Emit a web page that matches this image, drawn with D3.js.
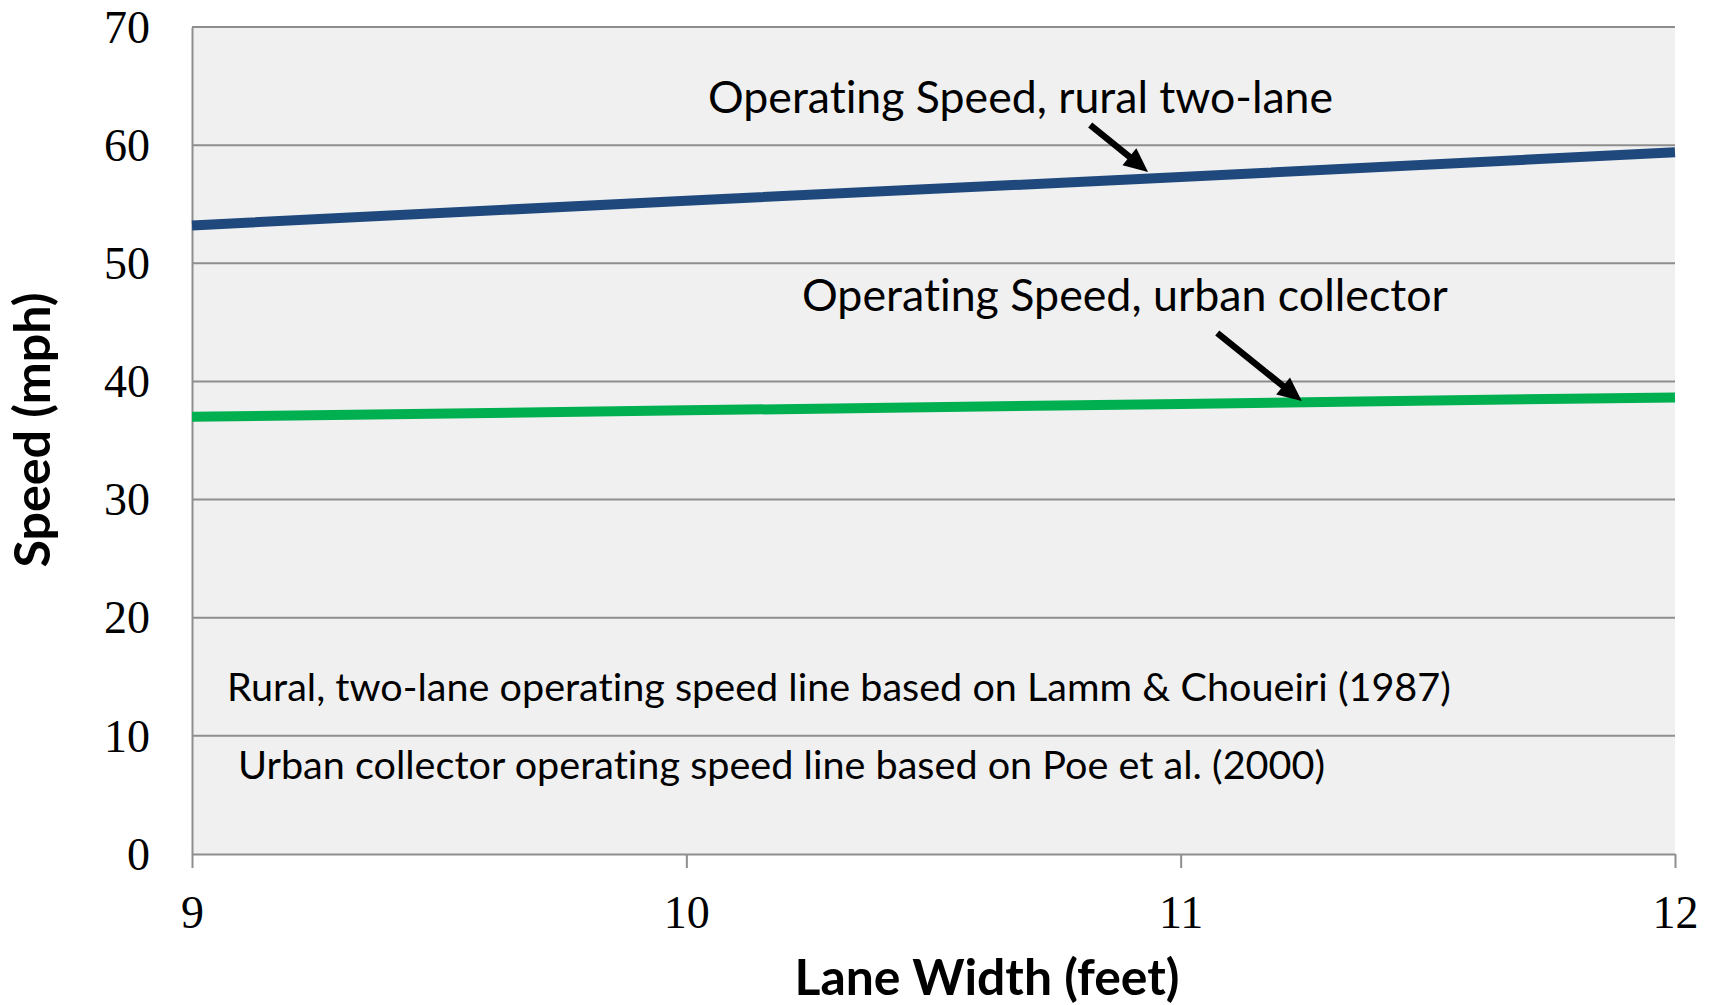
<!DOCTYPE html>
<html><head><meta charset="utf-8">
<script src="https://cdn.jsdelivr.net/npm/d3@7"></script>
<style>body{margin:0;background:#fff} text{font-variant-ligatures:none;font-feature-settings:"liga" 0,"clig" 0}</style>
</head><body><svg id="c" width="1713" height="1005"></svg>
<script>
// ---- data ----
const laneWidth = [9, 10, 11, 12];
const ruralSpeed = [53.2, 55.3, 57.3, 59.4];
const urbanSpeed = [37.0, 37.55, 38.1, 38.65];
const xTickLabels = ["9", "10", "11", "12"];
const yTickValues = [0, 10, 20, 30, 40, 50, 60, 70];
const seriesNames = ["Operating Speed, rural two-lane", "Operating Speed, urban collector"];
const seriesColors = ["#1F497D", "#00B050"];
const notes = ["Rural, two-lane operating speed line based on Lamm & Choueiri (1987)",
               "Urban collector operating speed line based on Poe et al. (2000)"];
const xTitle = "Lane Width (feet)";
const yTitle = "Speed (mph)";

// ---- layout ----
const W = 1713, H = 1005;
const L = 192, R = 1675, T = 27, B = 854;
const sans = "Lato, 'Open Sans', sans-serif";
const serif = "'Times New Roman', 'Liberation Serif', serif";

const svg = d3.select("#c");
const x = d3.scaleLinear().domain([9, 12]).range([L, R]);
const y = d3.scaleLinear().domain([0, 70]).range([B, T]);

svg.append("rect").attr("x", L).attr("y", T).attr("width", R - L).attr("height", B - T).attr("fill", "#F0F0F0");

// gridlines
svg.append("g").selectAll("line").data(yTickValues.filter(d => d > 0)).join("line")
  .attr("x1", L).attr("x2", R).attr("y1", d => y(d)).attr("y2", d => y(d))
  .attr("stroke", "#8E8E8E").attr("stroke-width", 2);

// y axis
const gy = svg.append("g").attr("transform", `translate(${L},0)`)
  .call(d3.axisLeft(y).tickValues(yTickValues).tickSize(0).tickSizeOuter(0).tickPadding(42).tickFormat(d3.format("d")));
gy.select(".domain").attr("stroke", "#8E8E8E").attr("stroke-width", 2);
gy.selectAll("text").attr("font-family", serif).attr("font-size", 46).attr("fill", "#000").attr("dy", "0.33em");

// x axis
const gx = svg.append("g").attr("transform", `translate(0,${B})`)
  .call(d3.axisBottom(x).tickValues(laneWidth).tickSize(14).tickSizeOuter(0).tickPadding(27)
    .tickFormat((d, i) => xTickLabels[i]));
gx.select(".domain").attr("stroke", "#8E8E8E").attr("stroke-width", 2);
gx.selectAll(".tick line").attr("stroke", "#8E8E8E").attr("stroke-width", 2);
gx.selectAll("text").attr("font-family", serif).attr("font-size", 46).attr("fill", "#000");

// series
const line = d3.line().x((d, i) => x(laneWidth[i])).y(d => y(d));
[ruralSpeed, urbanSpeed].forEach((s, k) => {
  svg.append("path").datum(s).attr("d", line).attr("fill", "none")
    .attr("stroke", seriesColors[k]).attr("stroke-width", 10).attr("stroke-linecap", "butt");
});

function fit(sel, target) {
  const n = sel.node();
  const fs = parseFloat(sel.attr("font-size"));
  const w = n.getComputedTextLength();
  sel.attr("font-size", (fs * target / w).toFixed(2));
}

// annotation labels (positions in data coordinates)
const labelPos = [[10.044, 62.72, 625], [10.234, 45.96, 646]];
seriesNames.forEach((t, k) => {
  const s = svg.append("text").attr("x", x(labelPos[k][0])).attr("y", y(labelPos[k][1]))
    .attr("font-family", sans).attr("font-size", 40).attr("fill", "#000").text(t);
  fit(s, labelPos[k][2]);
});

// arrows
const arrows = [[10.817, 61.71, 10.934, 57.73], [11.074, 44.1, 11.245, 38.34]];
arrows.forEach(a => {
  const x0 = x(a[0]), y0 = y(a[1]), x1 = x(a[2]), y1 = y(a[3]);
  const dx = x1 - x0, dy = y1 - y0, len = Math.hypot(dx, dy);
  const ux = dx / len, uy = dy / len, px = -uy, py = ux;
  const hl = 24, hw = 11;
  const bx = x1 - ux * hl, by = y1 - uy * hl;
  svg.append("line").attr("x1", x0).attr("y1", y0).attr("x2", bx + ux * 2).attr("y2", by + uy * 2)
    .attr("stroke", "#000").attr("stroke-width", 6.5);
  svg.append("path").attr("d", `M${x1},${y1}L${bx + px * hw},${by + py * hw}L${bx - px * hw},${by - py * hw}Z`)
    .attr("fill", "#000");
});

// notes
const notePos = [[9.071, 12.95, 1224], [9.093, 6.35, 1087]];
notes.forEach((t, k) => {
  const s = svg.append("text").attr("x", x(notePos[k][0])).attr("y", y(notePos[k][1]))
    .attr("font-family", sans).attr("font-size", 38).attr("fill", "#000").text(t);
  fit(s, notePos[k][2]);
});

// axis titles
const xt = svg.append("text").attr("x", 987).attr("y", 995).attr("text-anchor", "middle")
  .attr("font-family", sans).attr("font-weight", "bold").attr("font-size", 46).attr("fill", "#000").text(xTitle);
fit(xt, 385);
const yt = svg.append("text").attr("transform", "translate(50,430) rotate(-90)").attr("text-anchor", "middle")
  .attr("font-family", sans).attr("font-weight", "bold").attr("font-size", 46).attr("fill", "#000").text(yTitle);
fit(yt, 275);
</script>
</body></html>
